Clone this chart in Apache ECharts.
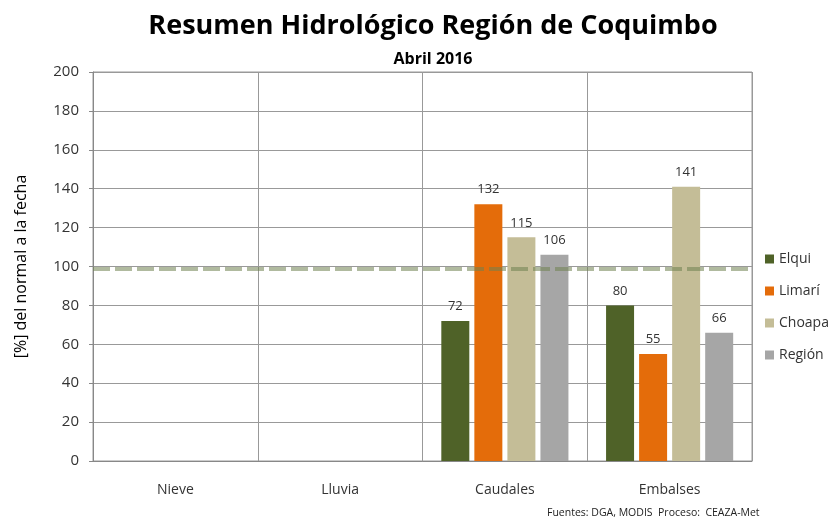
<!DOCTYPE html>
<html>
<head>
<meta charset="utf-8">
<script src="https://cdn.jsdelivr.net/npm/echarts@6/dist/echarts.min.js"></script>
<style>
	html, body { margin: 0; padding: 0; background: #fff; }
	#chart { width: 828px; height: 517px; }
</style>
</head>
<body>
<div id="chart"></div>
<script>
var categories = [ 'Nieve', 'Lluvia', 'Caudales', 'Embalses' ];
var elqui = [ null, null, 72, 80 ];
var limari = [ null, null, 132, 55 ];
var choapa = [ null, null, 115, 141 ];
var region = [ null, null, 106, 66 ];
var normalLine = 99;

var font = '"Open Sans", sans-serif';
var textColor = '#333';

var chart = echarts.init(document.getElementById('chart'));

function barSeries(name, data, color) {
	return {
		name : name,
		type : 'bar',
		data : data,
		barWidth : 28,
		barGap : '18%',
		itemStyle : {
			color : color
		},
		label : {
			show : true,
			position : 'top',
			distance : 8,
			color : textColor,
			fontFamily : font,
			fontSize : 13
		}
	};
}

var series = [ barSeries('Elqui', elqui, '#4F6228'),
		barSeries('Limarí', limari, '#E46C0A'),
		barSeries('Choapa', choapa, '#C4BD97'),
		barSeries('Región', region, '#A6A6A6') ];

// linea de referencia (normal)
series[0].markLine = {
	silent : true,
	symbol : 'none',
	label : {
		show : false
	},
	lineStyle : {
		color : 'rgba(112,130,80,0.55)',
		width : 4,
		type : [ 17, 5 ]
	},
	data : [ {
		yAxis : normalLine
	} ]
};

var option = {
	backgroundColor : '#fff',
	animation : false,
	title : [ {
		text : 'Resumen Hidrológico Región de Coquimbo',
		left : 428,
		textAlign : 'center',
		top : 8,
		textStyle : {
			fontFamily : font,
			fontSize : 27,
			fontWeight : 'bold',
			color : '#000'
		}
	}, {
		text : 'Abril 2016',
		left : 428,
		textAlign : 'center',
		top : 46,
		textStyle : {
			fontFamily : font,
			fontSize : 16,
			fontWeight : 'bold',
			color : '#000'
		}
	}, {
		text : 'Fuentes: DGA, MODIS  Proceso:  CEAZA-Met',
		left : 542,
		top : 503,
		textStyle : {
			fontFamily : font,
			fontSize : 10.5,
			fontWeight : 'normal',
			color : '#222'
		}
	} ],
	legend : {
		orient : 'vertical',
		left : 760,
		top : 247,
		itemWidth : 9,
		itemHeight : 9,
		itemGap : 18,
		icon : 'rect',
		textStyle : {
			fontFamily : font,
			fontSize : 14,
			color : textColor
		},
		data : [ 'Elqui', 'Limarí', 'Choapa', 'Región' ]
	},
	grid : {
		left : 93,
		right : 76,
		top : 72,
		bottom : 56,
		show : true,
		borderColor : '#999',
		borderWidth : 1
	},
	xAxis : {
		type : 'category',
		data : categories,
		axisTick : {
			show : false
		},
		axisLine : {
			lineStyle : {
				color : '#888'
			}
		},
		splitLine : {
			show : true,
			lineStyle : {
				color : '#999'
			}
		},
		axisLabel : {
			margin : 22,
			fontFamily : font,
			fontSize : 14,
			color : textColor
		}
	},
	yAxis : {
		type : 'value',
		min : 0,
		max : 200,
		interval : 20,
		name : '[%] del normal a la fecha',
		nameLocation : 'middle',
		nameGap : 64,
		nameTextStyle : {
			fontFamily : font,
			fontSize : 16,
			color : '#000'
		},
		axisLine : {
			show : true,
			lineStyle : {
				color : '#888'
			}
		},
		axisTick : {
			show : true,
			length : 4,
			lineStyle : {
				color : '#888'
			}
		},
		splitLine : {
			lineStyle : {
				color : '#999'
			}
		},
		axisLabel : {
			margin : 14,
			fontFamily : font,
			fontSize : 15,
			color : textColor
		}
	},
	series : series
};

chart.setOption(option);
</script>
</body>
</html>
